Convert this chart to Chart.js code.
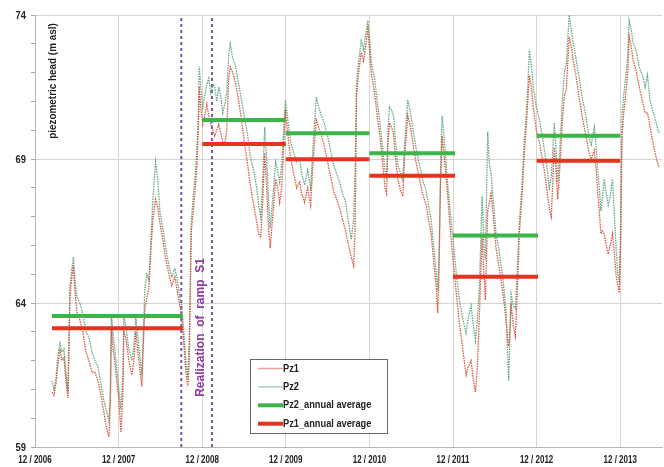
<!DOCTYPE html>
<html>
<head>
<meta charset="utf-8">
<script src="https://cdn.jsdelivr.net/npm/chart.js@4.4.1/dist/chart.umd.min.js"></script>
<style>
  html, body { margin: 0; padding: 0; background: #ffffff; }
  #wrap { width: 664px; height: 467px; position: relative; }
</style>
</head>
<body>
<div id="wrap"><canvas id="c" width="664" height="467"></canvas></div>
<script>
// Sample times, in months counted from December 2006
const months = [
  2.44, 2.72, 3.01, 3.30, 3.58, 3.87, 4.16, 4.44, 4.73, 5.02, 5.30, 5.52, 5.73, 6.02, 6.45, 6.88, 7.31, 7.74, 8.17, 8.60,
  9.03, 9.46, 9.89, 10.32, 10.61, 10.82, 10.97, 11.18, 11.61, 12.04, 12.33, 12.61, 12.76, 13.04, 13.47, 13.90, 14.19, 14.48, 14.77, 15.05,
  15.34, 15.55, 15.77, 16.06, 16.34, 16.63, 16.92, 17.30, 17.63, 17.92, 18.35, 18.78, 19.21, 19.64, 20.07, 20.36, 20.79, 21.07, 21.36, 21.65,
  21.93, 22.15, 22.43, 22.65, 22.94, 23.22, 23.44, 23.58, 23.80, 24.08, 24.37, 24.66, 24.94, 25.23, 25.52, 25.80, 26.09, 26.38, 26.66, 26.95,
  27.24, 27.52, 27.81, 28.03, 28.38, 28.81, 29.24, 29.67, 30.10, 30.53, 30.96, 31.39, 31.82, 32.11, 32.40, 32.68, 32.97, 33.26, 33.54, 33.76,
  34.12, 34.55, 34.83, 35.12, 35.41, 35.69, 35.94, 36.27, 36.70, 37.13, 37.56, 37.99, 38.27, 38.70, 39.13, 39.56, 39.92, 40.38, 40.71, 41.14,
  41.57, 42.00, 42.43, 42.86, 43.29, 43.72, 44.15, 44.58, 45.01, 45.40, 45.73, 45.94, 46.16, 46.45, 46.83, 47.16, 47.45, 47.78, 48.02, 48.31,
  48.74, 49.17, 49.46, 49.89, 50.24, 50.46, 50.67, 50.89, 51.18, 51.46, 51.75, 52.08, 52.47, 52.80, 53.04, 53.51, 53.90, 54.33, 54.76, 55.19,
  55.62, 56.15, 56.48, 56.87, 57.20, 57.58, 57.81, 57.99, 58.20, 58.44, 58.77, 59.25, 59.63, 59.96, 60.49, 60.92, 61.35, 61.88, 62.21, 62.60,
  62.93, 63.22, 63.50, 63.79, 64.18, 64.44, 64.65, 64.98, 65.22, 65.47, 65.80, 66.18, 66.51, 66.90, 67.23, 67.62, 67.80, 67.99, 68.16, 68.34,
  68.67, 68.95, 69.24, 69.52, 69.88, 70.24, 70.53, 70.74, 70.96, 71.25, 71.53, 71.96, 72.39, 72.82, 73.11, 73.54, 73.82, 74.11, 74.54, 74.83,
  75.02, 75.26, 75.50, 75.69, 75.98, 76.26, 76.48, 76.69, 76.98, 77.27, 77.65, 78.13, 78.60, 78.99, 79.32, 79.56, 79.85, 80.28, 80.56, 80.75,
  80.99, 81.24, 81.42, 81.71, 82.00, 82.28, 82.57, 82.90, 83.14, 83.39, 83.65, 83.86, 84.07, 84.25, 84.50, 84.82, 85.08, 85.29, 85.58, 85.87,
  86.26, 86.73, 87.20, 87.59, 87.92, 88.30, 88.63, 89.02, 89.31, 89.60
];

// Piezometric head at Pz1 (m asl)
const pz1 = [
  60.9, 60.8, 61.2, 61.9, 62.4, 62.0, 62.1, 61.3, 60.7, 64.3, 64.9, 65.3, 64.4, 63.7, 63.4, 63.0, 62.3, 62.0, 61.6, 61.6,
  61.3, 60.8, 60.2, 59.6, 59.35, 60.5, 63.2, 62.5, 61.6, 60.6, 59.5, 60.8, 63.0, 62.8, 62.0, 61.5, 62.0, 63.0, 62.3, 61.7,
  61.1, 62.5, 63.8, 64.2, 64.5, 65.8, 66.9, 67.6, 67.3, 66.8, 66.2, 65.5, 65.0, 64.6, 64.9, 64.5, 63.9, 63.5, 62.6, 61.6,
  61.1, 62.0, 66.5, 67.0, 67.8, 68.7, 70.0, 71.5, 70.8, 70.2, 70.5, 70.9, 70.5, 70.2, 70.0, 69.8, 70.0, 70.2, 69.9, 69.6,
  69.5, 70.0, 71.8, 72.2, 72.0, 71.6, 71.0, 70.3, 69.5, 68.8, 68.0, 67.4, 66.8, 66.4, 66.3, 67.5, 69.2, 68.0, 66.5, 65.9,
  67.0, 68.3, 68.0, 67.5, 68.0, 69.4, 70.7, 69.9, 69.0, 68.5, 68.0, 68.2, 67.8, 67.5, 68.0, 67.4, 68.9, 70.35, 70.1, 69.8,
  69.4, 68.9, 68.4, 67.9, 67.6, 67.3, 66.9, 66.5, 66.0, 65.6, 65.3, 66.5, 71.2, 72.0, 72.7, 72.4, 72.9, 73.5, 72.8, 71.9,
  71.3, 70.4, 69.9, 68.9, 68.0, 67.8, 69.6, 70.25, 70.1, 69.9, 69.0, 68.3, 67.9, 67.7, 69.0, 70.5, 70.1, 69.4, 68.8, 68.3,
  67.8, 67.4, 66.9, 66.4, 65.5, 64.6, 63.65, 65.0, 68.0, 69.8, 69.0, 67.7, 66.5, 65.6, 64.3, 63.3, 62.5, 61.5, 61.8, 62.0,
  61.3, 60.9, 61.8, 63.6, 66.3, 65.0, 64.1, 67.2, 67.5, 67.8, 67.0, 65.9, 65.4, 64.8, 64.2, 63.4, 62.8, 62.5, 63.0, 64.0,
  63.2, 62.85, 64.5, 66.4, 67.6, 69.2, 70.2, 71.0, 71.9, 71.5, 70.8, 70.0, 69.6, 69.0, 68.6, 67.8, 67.3, 67.0, 69.4, 68.5,
  67.6, 68.4, 69.4, 70.3, 71.2, 71.4, 72.4, 73.25, 72.9, 72.4, 71.9, 71.1, 70.4, 69.9, 69.5, 69.2, 69.0, 69.3, 68.6, 67.9,
  67.2, 66.4, 66.5, 66.4, 66.0, 65.7, 66.0, 66.4, 65.8, 65.0, 64.6, 64.35, 66.0, 69.8, 70.6, 71.3, 72.0, 73.25, 72.9, 72.4,
  72.1, 71.5, 71.0, 70.6, 70.6, 70.1, 69.65, 69.2, 68.9, 68.7
];

// Piezometric head at Pz2 (m asl)
const pz2 = [
  61.3, 61.0, 61.4, 62.2, 62.6, 62.3, 62.4, 61.6, 60.9, 64.6, 65.2, 65.6, 64.8, 64.2, 64.0, 63.6, 63.0, 62.8, 62.3, 62.0,
  61.8, 61.2, 60.6, 60.2, 59.9, 61.0, 63.6, 63.0, 62.0, 61.0, 60.3, 61.5, 63.5, 63.2, 62.4, 62.0, 62.5, 63.5, 62.8, 62.2,
  61.5, 63.0, 64.5, 65.0, 64.8, 66.1, 67.6, 68.9, 68.3, 67.2, 66.6, 65.9, 65.3, 64.9, 65.2, 64.9, 64.2, 63.9, 63.0, 62.0,
  61.4, 62.8, 66.8, 67.5, 68.3, 69.2, 70.5, 72.2, 71.5, 70.8, 71.2, 71.6, 71.8, 71.3, 71.6, 71.5, 71.0, 71.5, 71.2, 70.6,
  70.9, 71.3, 72.6, 73.0, 72.5, 72.2, 71.6, 71.0, 70.4, 69.8, 69.0, 68.6, 68.0, 67.4, 67.0, 68.2, 70.1, 69.0, 67.5, 66.6,
  67.6, 68.9, 68.6, 68.2, 68.8, 70.0, 71.05, 70.4, 69.6, 69.2, 68.9, 69.0, 68.5, 68.1, 68.6, 68.0, 69.5, 71.15, 70.8, 70.5,
  70.2, 69.8, 69.3, 68.8, 68.5, 68.2, 67.8, 67.5, 66.8, 66.2, 66.9, 68.5, 71.7, 72.4, 73.1, 72.8, 73.3, 73.8, 73.2, 72.3,
  71.8, 70.9, 70.4, 69.4, 68.6, 68.4, 70.0, 70.8, 70.7, 70.5, 69.6, 68.8, 68.5, 68.2, 69.5, 71.05, 70.6, 69.9, 69.3, 68.8,
  68.3, 67.9, 67.4, 66.9, 66.0, 65.1, 64.4, 65.6, 68.5, 70.5, 69.6, 68.1, 67.1, 66.3, 65.0, 64.1, 63.5, 62.95, 63.5, 63.9,
  63.2, 62.7, 63.4, 64.6, 67.7, 66.0, 65.5, 69.95, 68.8, 68.5, 67.5, 66.4, 66.0, 65.3, 64.7, 63.7, 62.5, 61.3, 62.6, 64.3,
  63.9, 63.8, 65.2, 66.8, 68.0, 69.6, 70.6, 71.5, 72.8, 72.2, 71.5, 70.8, 70.4, 69.8, 69.3, 68.6, 68.0, 68.4, 70.25, 69.2,
  68.2, 69.0, 70.1, 71.0, 72.0, 72.3, 73.2, 74.0, 73.5, 73.0, 72.5, 71.8, 71.05, 70.6, 70.1, 69.7, 69.5, 70.1, 69.4, 68.7,
  68.0, 67.2, 67.6, 68.3, 67.8, 67.4, 67.7, 68.3, 67.2, 66.0, 65.0, 64.8, 66.5, 70.5, 71.2, 71.9, 72.6, 73.8, 73.5, 73.0,
  72.8, 72.2, 71.9, 71.5, 71.9, 71.0, 70.7, 70.4, 70.1, 69.9
];

// Averaging periods (start, end month) and the annual mean heads
const avgPeriods = [[2.44, 21.2], [24, 36], [36, 48], [48, 60.3], [60, 72.2], [72, 84]];
const pz2Annual = [63.55, 70.35, 69.89, 69.2, 66.34, 69.81];
const pz1Annual = [63.12, 69.52, 68.99, 68.42, 64.91, 68.94];

// Ramp S1 construction window (months)
const rampMonths = [21.0, 25.4];

// Axis ticks
const xTickMonths = [0, 12, 24, 36, 48, 60, 72, 84];
const xTickLabels = ['12 / 2006', '12 / 2007', '12 / 2008', '12 / 2009', '12 / 2010', '12 / 2011', '12 / 2012', '12 / 2013'];
const yTickValues = [59, 60, 61, 62, 63, 64, 65, 66, 67, 68, 69, 70, 71, 72, 73, 74];
const yTickLabelled = [59, 64, 69, 74];

const FONT = "'Liberation Sans', Arial, sans-serif";

function series(values) {
  return months.map((m, i) => ({ x: m, y: values[i] }));
}
function steps(values) {
  const pts = [];
  avgPeriods.forEach((p, i) => {
    pts.push({ x: p[0], y: values[i] }, { x: p[1], y: values[i] }, { x: p[1], y: null });
  });
  return pts;
}
const rampSets = rampMonths.map(m => ({
  data: [{ x: m, y: 59 }, { x: m, y: 74 }],
  borderColor: '#7a55a8',
  borderWidth: 2,
  borderDash: [3, 3],
  pointRadius: 0,
  fill: false,
  order: 5
}));

const legendItems = [
  { label: 'Pz1', color: '#e6a396', width: 1.5 },
  { label: 'Pz2', color: '#a7cfd0', width: 1.5 },
  { label: 'Pz2_annual average', color: '#3bb54a', width: 4 },
  { label: 'Pz1_annual average', color: '#e5331f', width: 4 }
];

// Narrow bold lettering: a horizontally squeezed Liberation Sans
function narrowText(ctx, text, x, y, size, squeeze, align, color, angle) {
  ctx.save();
  ctx.translate(x, y);
  if (angle) ctx.rotate(angle);
  ctx.scale(squeeze, 1);
  ctx.font = 'bold ' + size + 'px ' + FONT;
  ctx.fillStyle = color;
  ctx.textAlign = align;
  ctx.textBaseline = 'middle';
  ctx.fillText(text, 0, 0);
  ctx.restore();
}

const overlay = {
  id: 'overlay',
  afterDatasetsDraw(chart) {
    const { ctx, chartArea: a, scales } = chart;
    ctx.save();

    // tick labels
    xTickMonths.forEach((m, i) => {
      narrowText(ctx, xTickLabels[i], scales.x.getPixelForValue(m), a.bottom + 13, 10, 0.8, 'center', '#222');
    });
    yTickLabelled.forEach(v => {
      narrowText(ctx, String(v), a.left - 9, scales.y.getPixelForValue(v) + 0.5, 11, 0.85, 'right', '#222');
    });

    // y-axis title placed inside the plot
    narrowText(ctx, 'piezometric head (m asl)', a.left + 18, a.top + 66, 11, 0.9, 'center', '#222', -Math.PI / 2);

    // ramp annotation
    narrowText(ctx, 'Realization  of  ramp  S1', scales.x.getPixelForValue(23.8), scales.y.getPixelForValue(63.15),
      12, 1, 'center', '#8e3a9e', -Math.PI / 2);

    // legend box
    const bx = a.left + 215, by = a.top + 344, bw = 137, bh = 74;
    ctx.fillStyle = '#ffffff';
    ctx.fillRect(bx, by, bw, bh);
    ctx.strokeStyle = '#6e6868';
    ctx.lineWidth = 1;
    ctx.strokeRect(bx + 0.5, by + 0.5, bw, bh);
    legendItems.forEach((it, i) => {
      const yy = by + 9.5 + i * 18.4;
      ctx.strokeStyle = it.color;
      ctx.lineWidth = it.width;
      ctx.beginPath();
      ctx.moveTo(bx + 8, yy);
      ctx.lineTo(bx + 33, yy);
      ctx.stroke();
      narrowText(ctx, it.label, bx + 33, yy, 11, 0.84, 'left', '#222');
    });
    ctx.restore();
  }
};

new Chart(document.getElementById('c'), {
  type: 'line',
  data: {
    datasets: [
      { label: 'Pz2', data: series(pz2), borderColor: 'rgba(80,160,115,0.9)', borderWidth: 1.3,
        borderDash: [1.5, 1], pointRadius: 0, tension: 0, fill: false, order: 4 },
      { label: 'Pz1', data: series(pz1), borderColor: 'rgba(214,66,44,0.9)', borderWidth: 1.3,
        borderDash: [1.5, 1], pointRadius: 0, tension: 0, fill: false, order: 3 },
      { label: 'Pz2_annual average', data: steps(pz2Annual), borderColor: '#3bb54a', borderWidth: 4,
        pointRadius: 0, spanGaps: false, borderCapStyle: 'butt', fill: false, order: 2 },
      { label: 'Pz1_annual average', data: steps(pz1Annual), borderColor: '#e5331f', borderWidth: 4,
        pointRadius: 0, spanGaps: false, borderCapStyle: 'butt', fill: false, order: 1 },
      ...rampSets
    ]
  },
  options: {
    responsive: false,
    animation: false,
    devicePixelRatio: 1,
    layout: { padding: { top: 15, right: 2, left: 0, bottom: 0 } },
    plugins: { legend: { display: false }, tooltip: { enabled: false } },
    scales: {
      x: {
        type: 'linear',
        min: 0,
        max: 90,
        afterBuildTicks(scale) { scale.ticks = xTickMonths.map(v => ({ value: v })); },
        afterFit(scale) { scale.height = 20; },
        ticks: { display: false },
        grid: { color: '#ddd3cf', lineWidth: 1, drawTicks: false },
        border: { color: '#bdb5b1', width: 1 }
      },
      y: {
        type: 'linear',
        min: 59,
        max: 74,
        afterBuildTicks(scale) { scale.ticks = yTickValues.map(v => ({ value: v })); },
        afterFit(scale) { scale.width = 35; },
        ticks: { display: false },
        grid: {
          color: (c) => yTickLabelled.includes(c.tick && c.tick.value) ? '#d9d1cd' : 'rgba(0,0,0,0)',
          tickColor: '#aaa3a0',
          tickLength: 4,
          lineWidth: 1
        },
        border: { color: '#bdb5b1', width: 1 }
      }
    }
  },
  plugins: [overlay]
});
</script>
</body>
</html>
